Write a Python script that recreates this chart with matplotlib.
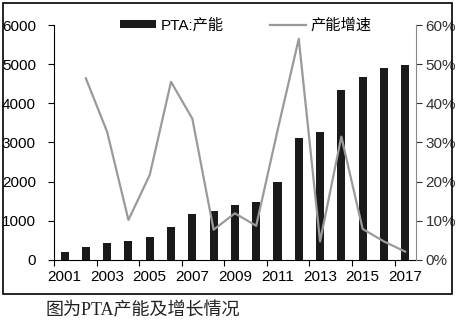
import numpy as np
import matplotlib.pyplot as plt
from matplotlib.patches import Rectangle

plt.rcParams['font.family'] = ['Liberation Sans', 'Noto Sans CJK SC', 'DejaVu Sans']

# PTA capacity (10k tons) and yearly growth rate
years = list(range(2001, 2018))
capacity = [210, 320, 420, 480, 580, 840, 1160, 1240, 1390, 1490,
            2000, 3120, 3280, 4330, 4670, 4900, 4980]
growth_years = years[1:]
growth = [46.4, 32.7, 10.2, 21.7, 45.5, 36.1, 7.7, 11.9, 8.7,
          33.0, 56.5, 4.7, 31.5, 7.9, 4.7, 2.1]

fig = plt.figure(figsize=(4.57, 3.22), dpi=100)
ax = fig.add_axes([0.118, 0.193, 0.792, 0.729])
ax2 = ax.twinx()

x = np.arange(len(years))
bars = ax.bar(x, capacity, width=0.38, color='#1a1a1a', label='PTA:产能')
gx = np.array([years.index(y) for y in growth_years])
line, = ax2.plot(gx, growth, color='#9a9a9a', lw=1.6, label='产能增速')

ax.set_xlim(-0.5, len(years) - 0.5)
ax.set_ylim(0, 6000)
ax.set_yticks(range(0, 6001, 1000))
ax2.set_ylim(0, 60)
ax2.set_yticks(range(0, 61, 10))
ax2.set_yticklabels([f'{v}%' for v in range(0, 61, 10)])

# ticks at every second category boundary, labels at odd years
ax.set_xticks(np.arange(-0.5, len(years), 2))
ax.set_xticklabels([])
ax.set_xticks(x[::2], minor=True)
ax.set_xticklabels([str(y) for y in years[::2]], minor=True, fontsize=11)
ax.tick_params(axis='x', which='major', length=4, direction='out')
ax.tick_params(axis='x', which='minor', length=0, pad=7)
ax.tick_params(axis='y', length=4, labelsize=11, pad=9)
ax2.tick_params(axis='y', length=4, labelsize=11, colors='#333333', pad=3)

for a in (ax, ax2):
    a.spines['top'].set_visible(False)
ax2.spines['left'].set_visible(False)
ax2.spines['bottom'].set_visible(False)
ax2.spines['right'].set_color('#888888')
ax.spines['right'].set_visible(False)

ax.legend([bars, line], ['PTA:产能', '产能增速'], ncol=2, frameon=False,
          loc='upper center', bbox_to_anchor=(0.53, 1.09), fontsize=11,
          handlelength=2.4, handleheight=0.4, handletextpad=0.3, columnspacing=3.0)

# outer frame and caption
fig.patches.append(Rectangle((0.007, 0.087), 0.983, 0.904, transform=fig.transFigure,
                             fill=False, edgecolor='black', lw=1.2))
fig.text(0.1, 0.035, '图为PTA产能及增长情况', fontsize=13, color='#222222',
         family=['Liberation Serif', 'Noto Sans CJK SC'], va='center')

fig.savefig('out.png', dpi=100)
